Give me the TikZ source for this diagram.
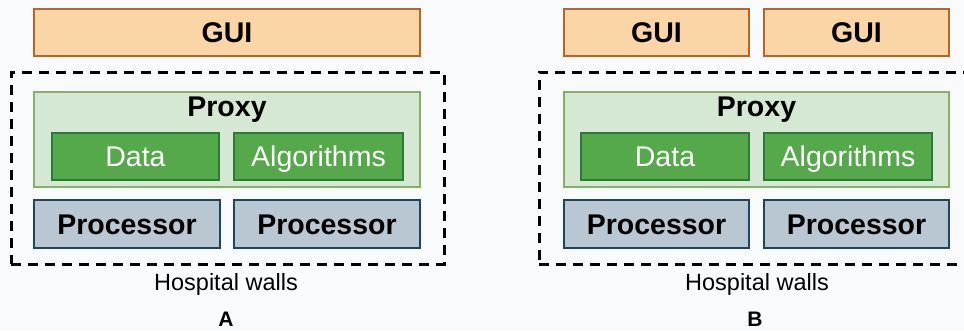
\documentclass[tikz,border=0pt]{standalone}
\usepackage{fontspec}
\setmainfont{Liberation Sans}
\definecolor{bg}{HTML}{F9FAFC}
\definecolor{guifill}{HTML}{FAD5A6}
\definecolor{guidraw}{HTML}{B9652A}
\definecolor{proxyfill}{HTML}{D5E8D4}
\definecolor{proxydraw}{HTML}{82B366}
\definecolor{datafill}{HTML}{55A94B}
\definecolor{datadraw}{HTML}{2B7A38}
\definecolor{procfill}{HTML}{B9C7D3}
\definecolor{procdraw}{HTML}{1F4563}
\tikzset{
  box/.style={draw, line width=2pt, inner sep=0pt, text height=20pt, text depth=0pt,
    font=\fontsize{28.5}{30}\selectfont},
  guibox/.style={box, fill=guifill, draw=guidraw, font=\fontsize{28.5}{30}\selectfont\bfseries,
    minimum height=47pt},
  proxybox/.style={box, fill=proxyfill, draw=proxydraw, minimum height=95pt},
  proxylabel/.style={inner sep=0pt, text height=20pt, text depth=0pt, font=\fontsize{28.5}{30}\selectfont\bfseries},
  databox/.style={box, fill=datafill, draw=datadraw, text=white, minimum height=47pt},
  procbox/.style={box, fill=procfill, draw=procdraw, font=\fontsize{28.5}{30}\selectfont\bfseries,
    minimum height=48pt},
  walls/.style={draw, line width=3pt, dash pattern=on 10pt off 7pt, inner sep=0pt, minimum height=192pt},
  wallslabel/.style={inner sep=0pt, text height=16.5pt, text depth=0pt, font=\fontsize{23.5}{25}\selectfont},
  panellabel/.style={inner sep=0pt, text height=15pt, text depth=0pt, font=\fontsize{21}{23}\selectfont\bfseries},
}
\begin{document}
\begin{tikzpicture}[x=1pt,y=-1pt]
\clip (0,0) rectangle (964,330);
\fill[bg] (0,0) rectangle (964,330);
% Panel A
\node[guibox, minimum width=386pt] (guiA) at (227,32.5) {GUI};
\node[walls, minimum width=433pt] (wallsA) at (227.5,168) {};
\node[proxybox, minimum width=386pt] (proxyA) at (227,139.5) {};
\node[proxylabel] (proxyAlabel) at (227,106.5) {Proxy};
\node[databox, minimum width=167pt] (dataA) at (135.5,156.5) {Data};
\node[databox, minimum width=169pt] (algoA) at (318.5,156.5) {Algorithms};
\node[procbox, minimum width=186pt] (procA1) at (127,224) {Processor};
\node[procbox, minimum width=186pt] (procA2) at (327,224) {Processor};
\node[wallslabel] (hospA) at (226,282) {Hospital walls};
\node[panellabel] (labA) at (226,318.5) {A};
% Panel B
\node[guibox, minimum width=185pt] (guiB1) at (656.5,32.5) {GUI};
\node[guibox, minimum width=185pt] (guiB2) at (856.5,32.5) {GUI};
\node[walls, minimum width=461pt] (wallsB) at (769.5,168) {};
\node[proxybox, minimum width=385pt] (proxyB) at (756.5,139.5) {};
\node[proxylabel] (proxyBlabel) at (756.5,106.5) {Proxy};
\node[databox, minimum width=168pt] (dataB) at (665,156.5) {Data};
\node[databox, minimum width=168pt] (algoB) at (848,156.5) {Algorithms};
\node[procbox, minimum width=185pt] (procB1) at (656.5,224) {Processor};
\node[procbox, minimum width=185pt] (procB2) at (856.5,224) {Processor};
\node[wallslabel] (hospB) at (757,282) {Hospital walls};
\node[panellabel] (labB) at (755,318.5) {B};
\end{tikzpicture}
\end{document}
